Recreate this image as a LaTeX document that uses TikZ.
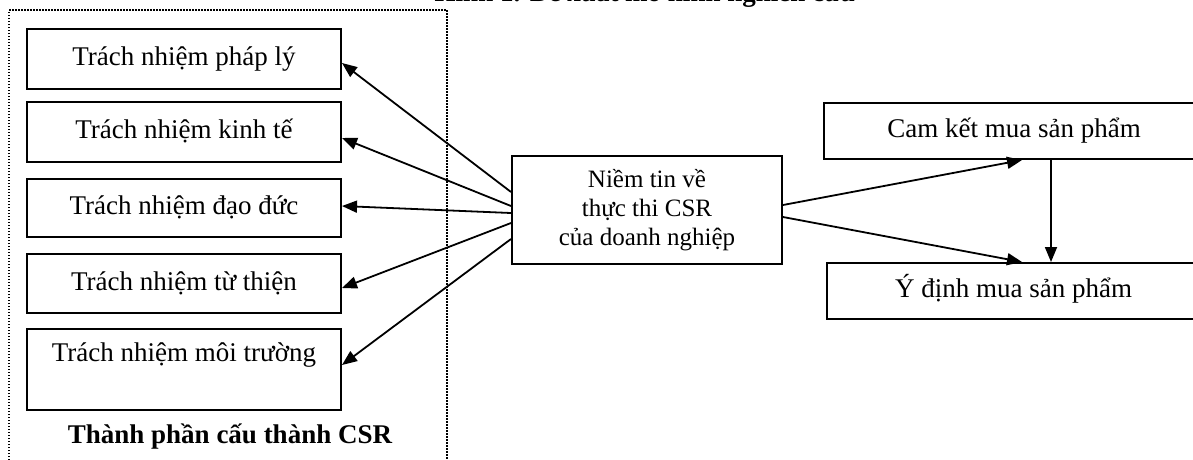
\documentclass[tikz,border=0pt]{standalone}
\usepackage{fontspec}
\setmainfont{Liberation Serif}
\usetikzlibrary{arrows.meta}
\begin{document}
\begin{tikzpicture}[x=1pt,y=-1pt,
  box/.style={draw=black,line width=2pt,inner sep=0pt,text height=19pt,text depth=6pt,
    font=\fontsize{27}{31}\selectfont},
  lbox/.style={box,minimum width=314pt},
  cbox/.style={draw=black,line width=2pt,inner sep=0pt,align=center,
    minimum width=270pt,minimum height=108pt,font=\fontsize{25}{29}\selectfont},
  arr/.style={line width=1.8pt,-{Triangle[length=15pt,width=12pt]}},
  frame/.style={line width=1.5pt,dash pattern=on 1.5pt off 1.5pt}]
\useasboundingbox (0,0) rectangle (1193,459);
% partially visible title
\node[anchor=base,inner sep=0pt,font=\fontsize{27}{31}\selectfont\bfseries] (title) at (645,1) {Hình 1. Đề xuất mô hình nghiên cứu};
% dotted frame
\draw[frame] (9,475) -- (9,10) -- (447,10) -- (447,475);
% left boxes
\node[lbox,minimum height=60pt] (b1) at (184,59) {Trách nhiệm pháp lý};
\node[lbox,minimum height=60pt] (b2) at (184,132) {Trách nhiệm kinh tế};
\node[lbox,minimum height=58pt] (b3) at (184,208) {Trách nhiệm đạo đức};
\node[lbox,minimum height=59pt] (b4) at (184,283.5) {Trách nhiệm từ thiện};
\node[lbox,minimum height=81pt,text height=20pt,text depth=37pt] (b5) at (184,369.5) {Trách nhiệm môi trường};
\node[anchor=base,inner sep=0pt,font=\fontsize{27}{31}\selectfont\bfseries] (cap) at (230,443) {Thành phần cấu thành CSR};
% center box
\node[cbox] (c) at (647,210) {Niềm tin về\\thực thi CSR\\của doanh nghiệp};
% right boxes
\node[box,minimum width=380pt,minimum height=56pt] (cam) at (1014,131) {Cam kết mua sản phẩm};
\node[box,minimum width=373pt,minimum height=56pt] (yd) at (1013.5,291) {Ý định mua sản phẩm};
% arrows to the left
\draw[arr] ([yshift=18pt]c.west) -- ([yshift=-4pt]b1.east);
\draw[arr] ([yshift=4pt]c.west) -- ([yshift=-6pt]b2.east);
\draw[arr] ([yshift=-3pt]c.west) -- ([yshift=2pt]b3.east);
\draw[arr] ([yshift=-13pt]c.west) -- ([yshift=-4.5pt]b4.east);
\draw[arr] ([yshift=-29pt]c.west) -- ([yshift=4.5pt]b5.east);
% arrows to the right
\draw[arr] ([yshift=5pt]c.east) -- ([xshift=8pt]cam.south);
\draw[arr] ([yshift=-7pt]c.east) -- ([xshift=8.5pt]yd.north);
\draw[arr] ([xshift=37pt]cam.south) -- ([xshift=37.5pt]yd.north);
\end{tikzpicture}
\end{document}
